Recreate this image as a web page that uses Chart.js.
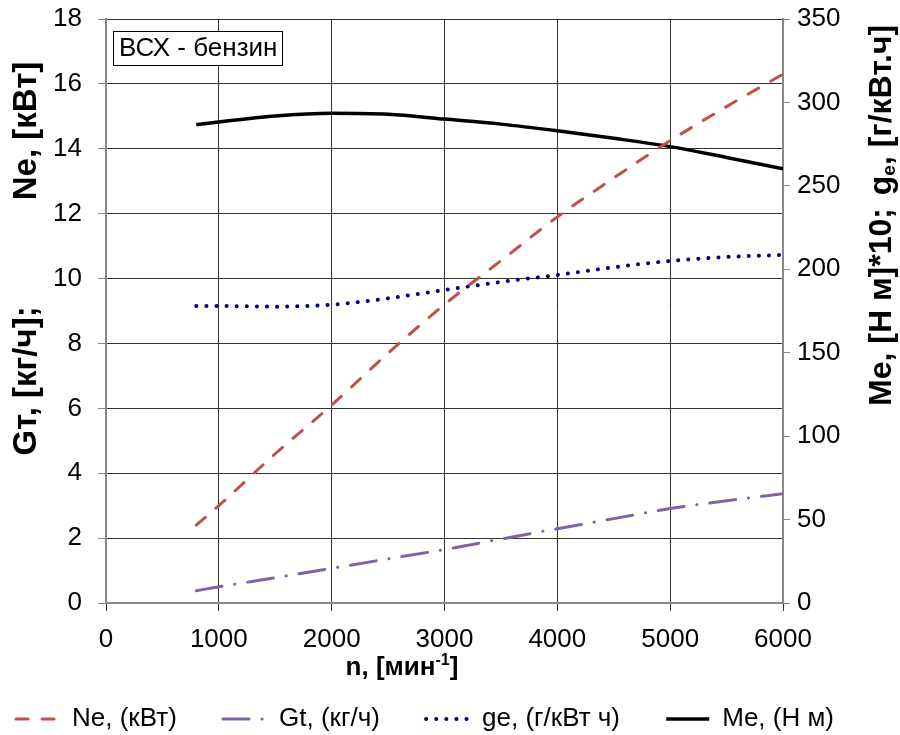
<!DOCTYPE html>
<html>
<head>
<meta charset="utf-8">
<script src="https://cdn.jsdelivr.net/npm/chart.js@4.4.1/dist/chart.umd.min.js"></script>
<style>
  html, body { margin: 0; padding: 0; background: #fff; }
</style>
</head>
<body>
<canvas id="chart" width="900" height="735"></canvas>
<script>
// engine speed, rpm
const n = [800, 1000, 1500, 2000, 2500, 3000, 3500, 4000, 4500, 5000, 5500, 6000];
// power Ne, kW (left axis)
const ne = [2.4, 3.0, 4.6, 6.1, 7.7, 9.2, 10.55, 11.9, 13.1, 14.25, 15.3, 16.3];
// fuel consumption Gt, kg/h (left axis)
const gt = [0.38, 0.5, 0.78, 1.07, 1.36, 1.65, 1.97, 2.29, 2.6, 2.91, 3.15, 3.37];
// specific consumption ge, g/kWh (right axis)
const ge = [178, 178, 177.6, 178.8, 182.6, 187.6, 192.4, 196.6, 201.2, 205, 207.4, 208.6];
// torque Me*10, N m (right axis)
const me = [286.6, 288.3, 291.9, 293.5, 292.9, 290, 287, 283, 278.5, 273.5, 267, 260.3];

const xTicks = [0, 1000, 2000, 3000, 4000, 5000, 6000];
const leftTicks = [0, 2, 4, 6, 8, 10, 12, 14, 16, 18];
const rightTicks = [0, 50, 100, 150, 200, 250, 300, 350];

const FONT = '"Liberation Sans", Arial, sans-serif';

function pts(ys) {
  return n.map((x, i) => ({ x: x, y: ys[i] }));
}

// draw a row of text pieces (for sub/superscripts), centered on cx,cy
function drawRuns(ctx, runs, cx, cy, rot, size, bold) {
  ctx.save();
  ctx.translate(cx, cy);
  ctx.rotate(rot);
  const fontOf = r => (bold ? 'bold ' : '') + Math.round(size * (r.s || 1)) + 'px ' + FONT;
  let total = 0;
  runs.forEach(r => { ctx.font = fontOf(r); r.w = ctx.measureText(r.t).width; total += r.w; });
  let x = -total / 2;
  ctx.fillStyle = '#000';
  ctx.textAlign = 'left';
  ctx.textBaseline = 'middle';
  runs.forEach(r => {
    ctx.font = fontOf(r);
    ctx.fillText(r.t, x, (r.dy || 0) * size);
    x += r.w;
  });
  ctx.restore();
}

const labelsPlugin = {
  id: 'labels',
  afterLayout(chart) {
    // nudge the legend row to where it sits in the original
    const lg = chart.legend;
    lg.left -= 50;
    lg.top += 7; lg.bottom += 7;
  },
  afterDatasetsDraw(chart) {
    const ctx = chart.ctx;
    const a = chart.chartArea;

    // note box
    ctx.save();
    ctx.fillStyle = '#fff';
    ctx.fillRect(a.left + 7, a.top + 12, 170, 35);
    ctx.strokeStyle = '#000';
    ctx.lineWidth = 1;
    ctx.strokeRect(a.left + 7.5, a.top + 12.5, 169, 34);
    ctx.fillStyle = '#000';
    ctx.font = '26px ' + FONT;
    ctx.textBaseline = 'middle';
    ctx.fillText('ВСХ - бензин', a.left + 13, a.top + 30);
    ctx.restore();

    // axis titles
    drawRuns(ctx, [{ t: 'n, [мин' }, { t: '-1', s: 0.6, dy: -0.3 }, { t: ']' }], 402, 668, 0, 26, true);
    drawRuns(ctx, [{ t: 'Gт, [кг/ч];' }], 27, 381, -Math.PI / 2, 33, true);
    drawRuns(ctx, [{ t: 'Ne, [кВт]' }], 27, 131, -Math.PI / 2, 33, true);
    drawRuns(ctx, [{ t: 'Me, [Н м]*10;' }], 882, 307, -Math.PI / 2, 32, true);
    drawRuns(ctx, [{ t: 'g' }, { t: 'e', s: 0.6, dy: 0.25 }, { t: ', [г/кВт.ч]' }], 882, 110, -Math.PI / 2, 32, true);
  }
};

// legend markers should carry the dash pattern of their line
function legendLabels(chart) {
  const items = Chart.defaults.plugins.legend.labels.generateLabels(chart);
  items.forEach((it, i) => {
    const ds = chart.data.datasets[it.datasetIndex];
    it.lineDash = ds.borderDash || [];
    it.lineDashOffset = ds.borderDashOffset || 0;
    it.lineCap = ds.borderCapStyle || 'butt';
    it.lineWidth = ds.borderWidth;
    it.strokeStyle = ds.borderColor;
    // a little extra room between entries
    if (i < items.length - 1) it.text = it.text + ' ';
  });
  return items;
}

function noPad(s) {
  s.paddingTop = 0;
  s.paddingBottom = 0;
}

new Chart(document.getElementById('chart'), {
  type: 'line',
  data: {
    datasets: [
      {
        label: 'Ne, (кВт)', data: pts(ne), yAxisID: 'y',
        borderColor: '#C0504D', borderWidth: 3, borderDash: [12, 14], borderCapStyle: 'round'
      },
      {
        label: 'Gt, (кг/ч)', data: pts(gt), yAxisID: 'y',
        borderColor: '#8064A2', borderWidth: 3, borderDash: [26, 13, 0.1, 13], borderCapStyle: 'round'
      },
      {
        label: 'ge, (г/кВт ч)', data: pts(ge), yAxisID: 'y1',
        borderColor: '#000080', borderWidth: 4, borderDash: [0.1, 10], borderCapStyle: 'round'
      },
      {
        label: 'Me, (Н м)', data: pts(me), yAxisID: 'y1',
        borderColor: '#000000', borderWidth: 3.5
      }
    ]
  },
  options: {
    responsive: false,
    animation: false,
    devicePixelRatio: 1,
    layout: { padding: { top: 19, left: 0, right: 0, bottom: 0 } },
    elements: {
      point: { radius: 0, hoverRadius: 0 },
      line: { cubicInterpolationMode: 'monotone', fill: false }
    },
    plugins: {
      tooltip: { enabled: false },
      legend: {
        position: 'bottom',
        labels: {
          font: { size: 26, family: FONT },
          color: '#000',
          usePointStyle: true,
          pointStyle: 'line',
          pointStyleWidth: 43,
          padding: 39,
          generateLabels: legendLabels
        }
      }
    },
    scales: {
      x: {
        type: 'linear', min: 0, max: 6000,
        afterBuildTicks: s => { s.ticks = xTicks.map(v => ({ value: v })); },
        afterFit: s => { s.height = 57; },
        ticks: { font: { size: 26, family: FONT }, color: '#000', padding: 13, maxRotation: 0,
                 callback: v => String(v) },
        grid: { color: '#333', lineWidth: 1, tickLength: 8, tickColor: '#333' },
        border: { color: '#888', width: 2 }
      },
      y: {
        position: 'left', min: 0, max: 18,
        afterBuildTicks: s => { s.ticks = leftTicks.map(v => ({ value: v })); },
        afterFit: s => { s.width = 106; noPad(s); },
        ticks: { font: { size: 26, family: FONT }, color: '#000', padding: 16 },
        grid: { color: '#333', lineWidth: 1, tickLength: 8, tickColor: '#888' },
        border: { color: '#888', width: 2 }
      },
      y1: {
        position: 'right', min: 0, max: 350,
        afterBuildTicks: s => { s.ticks = rightTicks.map(v => ({ value: v })); },
        afterFit: s => { s.width = 117; noPad(s); },
        ticks: { font: { size: 26, family: FONT }, color: '#000', padding: 7 },
        grid: { drawOnChartArea: false, tickLength: 7, tickColor: '#888' },
        border: { color: '#888', width: 2 }
      }
    }
  },
  plugins: [labelsPlugin]
});
</script>
</body>
</html>
